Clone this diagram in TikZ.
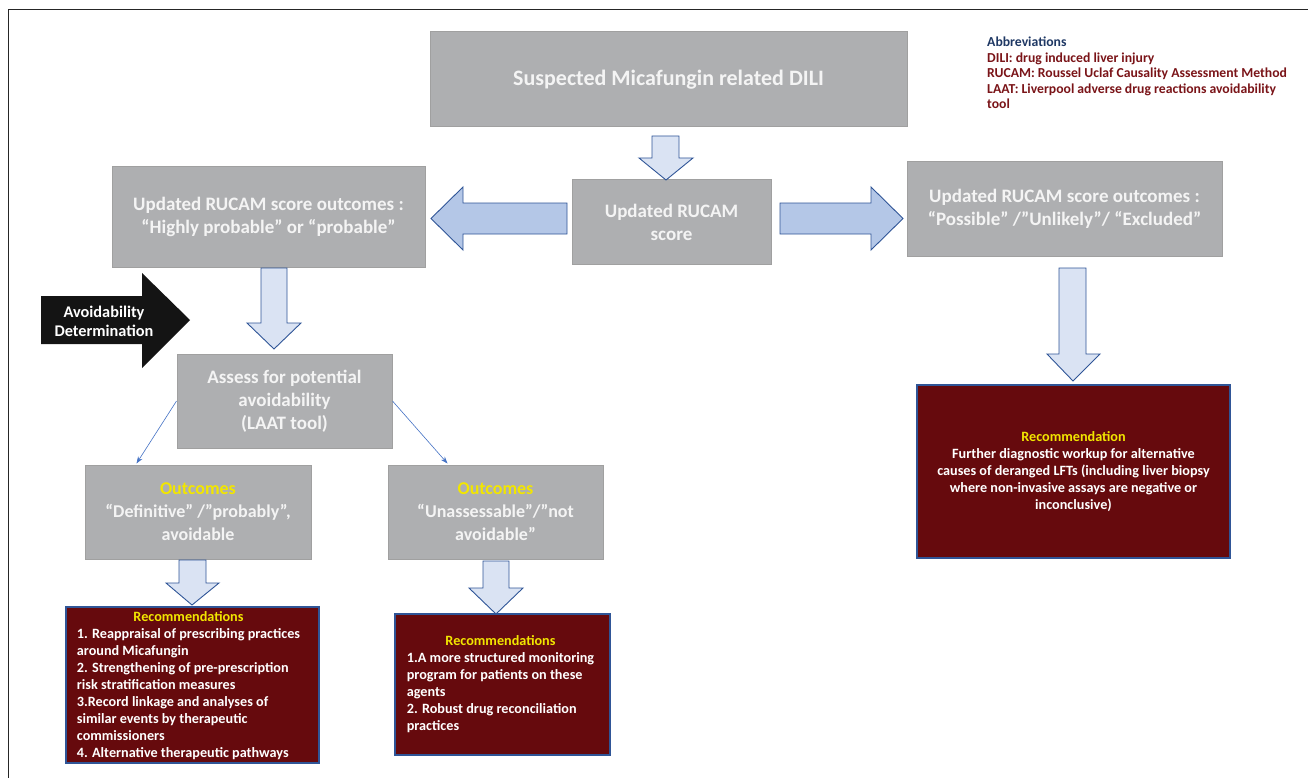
\documentclass[tikz,border=0pt]{standalone}
\usepackage{fontspec}
\setmainfont{Carlito}
\usetikzlibrary{arrows.meta,calc}
\definecolor{boxgray}{HTML}{AEAFB1}
\definecolor{grayedge}{HTML}{A0A0A0}
\definecolor{boxtext}{HTML}{F4F4F4}
\definecolor{arrowlight}{HTML}{DAE3F3}
\definecolor{arrowmid}{HTML}{B4C7E7}
\definecolor{arrowedge}{HTML}{2F5597}
\definecolor{recfill}{HTML}{660A0D}
\definecolor{recedge}{HTML}{2F5597}
\definecolor{headyellow}{HTML}{F2E600}
\definecolor{abbrblue}{HTML}{1F3864}
\definecolor{abbrred}{HTML}{7A1418}
\definecolor{thinblue}{HTML}{4472C4}
\begin{document}
\begin{tikzpicture}[x=1pt,y=-1pt,
  graybox/.style={draw=grayedge, fill=boxgray, line width=1pt, inner sep=0pt, align=center,
    text=boxtext, font=\fontsize{19}{23}\selectfont\bfseries},
  recbox/.style={draw=recedge, fill=recfill, line width=1.2pt, inner sep=0pt},
  rectext/.style={inner sep=0pt, text=white, font=\fontsize{14.2}{17}\selectfont\bfseries},
  blockv/.style={draw=arrowedge, fill=arrowlight, line width=0.9pt, line join=miter},
  blockh/.style={draw=arrowedge, fill=arrowmid, line width=0.9pt, line join=miter},
  thin/.style={draw=thinblue, line width=0.6pt, -{Stealth[length=7pt,width=5pt]}},
]
\useasboundingbox (0,0) rectangle (1308,778);
\draw[line width=1pt, black!85] (8,778) -- (8,10) -- (1308,10);

% gray boxes
\node[graybox, minimum width=477pt, minimum height=95pt, font=\fontsize{22}{26}\selectfont\bfseries] (top) at (668.5,79.5) {Suspected Micafungin related DILI};
\node[graybox, minimum width=199pt, minimum height=84pt] (rucam) at (671.5,222) {Updated RUCAM\\score};
\node[graybox, minimum width=313pt, minimum height=101pt] (leftout) at (268.5,217) {Updated RUCAM score outcomes :\\“Highly probable” or “probable”};
\node[graybox, minimum width=315pt, minimum height=94pt] (rightout) at (1064.5,209) {Updated RUCAM score outcomes :\\“Possible” /”Unlikely”/ “Excluded”};
\node[graybox, minimum width=215pt, minimum height=94pt] (assess) at (284.5,401) {Assess for potential\\avoidability\\(LAAT tool)};
\node[graybox, minimum width=226pt, minimum height=94pt, font=\fontsize{18}{23}\selectfont\bfseries] (out1) at (198,512) {\textcolor{headyellow}{Outcomes}\\“Definitive” /”probably”,\\avoidable};
\node[graybox, minimum width=215pt, minimum height=94pt, font=\fontsize{18}{23}\selectfont\bfseries] (out2) at (495.5,512) {\textcolor{headyellow}{Outcomes}\\“Unassessable”/”not\\avoidable”};

% recommendation boxes
\node[recbox, minimum width=253pt, minimum height=156pt] (rec1) at (192.5,685) {};
\node[rectext] (rec1t) at ($(rec1.center)+(-4,1)$) {\begin{tabular}{@{}l@{}}
\multicolumn{1}{@{}c@{}}{\textcolor{headyellow}{Recommendations}}\\
1. Reappraisal of prescribing practices\\
around Micafungin\\
2. Strengthening of pre-prescription\\
risk stratification measures\\
3.Record linkage and analyses of\\
similar events by therapeutic\\
commissioners\\
4. Alternative therapeutic pathways
\end{tabular}};
\node[recbox, minimum width=215pt, minimum height=141pt] (rec2) at (502.5,684.5) {};
\node[rectext] (rec2t) at ($(rec2.center)+(-2,0)$) {\begin{tabular}{@{}l@{}}
\multicolumn{1}{@{}c@{}}{\textcolor{headyellow}{Recommendations}}\\
1.A more structured monitoring\\
program for patients on these\\
agents\\
2. Robust drug reconciliation\\
practices
\end{tabular}};
\node[recbox, minimum width=313pt, minimum height=173pt] (rec3) at (1073.5,471.5) {};
\node[rectext, align=center] (rec3t) at (rec3.center) {\textcolor{headyellow}{Recommendation}\\
Further diagnostic workup for alternative\\
causes of deranged LFTs (including liver biopsy\\
where non-invasive assays are negative or\\
inconclusive)};

% abbreviations
\node[anchor=north west, inner sep=0pt, align=left, text=abbrred, font=\fontsize{13.7}{15.5}\selectfont\bfseries] (abbr) at (987,37)
{\textcolor{abbrblue}{Abbreviations}\\
DILI: drug induced liver injury\\
RUCAM: Roussel Uclaf Causality Assessment Method\\
LAAT: Liverpool adverse drug reactions avoidability\\
tool};

% block arrows
\draw[blockv] (652,136) -- (679,136) -- (679,158) -- (693,158) -- (666,180) -- (639,158) -- (652,158) -- cycle;
\draw[blockh] (567,203) -- (463,203) -- (463,187) -- (431,218.5) -- (463,250) -- (463,234) -- (567,234) -- cycle;
\draw[blockh] (780,203) -- (871,203) -- (871,187) -- (903,218.5) -- (871,250) -- (871,234) -- (780,234) -- cycle;
\draw[blockv] (261,268) -- (287,268) -- (287,323) -- (301,323) -- (274,349) -- (247,323) -- (261,323) -- cycle;
\draw[blockv] (179,560) -- (206,560) -- (206,583) -- (219,583) -- (192,605) -- (166,583) -- (179,583) -- cycle;
\draw[blockv] (483,561) -- (509,561) -- (509,588) -- (523,588) -- (496,614) -- (469,588) -- (483,588) -- cycle;
\draw[blockv] (1059,268) -- (1086,268) -- (1086,354) -- (1100,354) -- (1073,381) -- (1047,354) -- (1059,354) -- cycle;

% black arrow
\fill[black!92] (41,296) -- (142,296) -- (142,273) -- (190,320) -- (142,368) -- (142,344) -- (41,344) -- cycle;
\node[inner sep=0pt, align=center, text=white, font=\fontsize{16.3}{19}\selectfont\bfseries] (avoid) at (104,321) {Avoidability\\Determination};

% thin arrows
\draw[thin] (assess.west) -- ($(out1.north west)+(52,-1)$);
\draw[thin] (assess.east) -- ($(out2.north west)+(60,-1)$);
\end{tikzpicture}
\end{document}
